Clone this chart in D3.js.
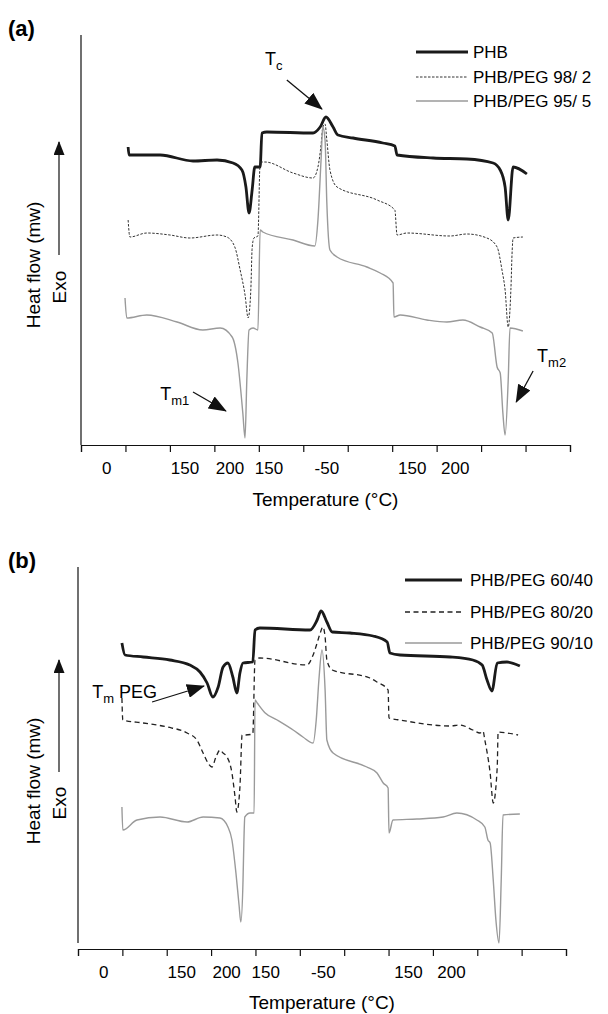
<!DOCTYPE html>
<html>
<head>
<meta charset="utf-8">
<script src="https://cdn.jsdelivr.net/npm/d3@7/dist/d3.min.js"></script>
<style>
body { margin: 0; background: #fff; }
svg { display: block; font-family: "Liberation Sans", Arial, sans-serif; }
</style>
</head>
<body>
<svg id="chart" width="608" height="1014"></svg>
<script>
// x in axis-segment units (one unit per tick), y in arbitrary heat flow units
var tickLabels = ["0", "150", "200", "150", "-50", "150", "200"];
var tickLabelPos = [0.58, 2.34, 3.35, 4.23, 5.53, 7.45, 8.42];

var namesA = ["PHB", "PHB/PEG 98/ 2", "PHB/PEG 95/ 5"];
var namesB = ["PHB/PEG 60/40", "PHB/PEG 80/20", "PHB/PEG 90/10"];

var phbA = [[1.06,29.8],[1.08,29.0],[1.78,29.0],[2.52,28.4],[3.06,28.5],[3.42,28.2],[3.62,27.5],[3.71,25.8],[3.78,23.2],
	[3.85,25.5],[3.91,27.8],[4.03,27.8],[4.07,31.2],[4.18,31.3],[5.22,31.2],[5.38,31.8],[5.51,32.8],[5.67,31.8],[5.78,31.0],
	[6.12,30.7],[6.79,30.2],[7.06,29.9],[7.11,29.0],[7.92,28.7],[8.68,28.6],[9.27,28.2],[9.43,27.5],[9.54,25.8],[9.61,22.5],
	[9.72,27.8],[10.03,27.1]];
var peg98A = [[1.06,22.5],[1.10,20.8],[1.48,21.2],[2.00,21.0],[2.45,20.7],[3.06,21.0],[3.28,20.8],[3.46,19.8],[3.58,17.5],
	[3.69,15.0],[3.76,12.7],[3.82,15.5],[3.85,19.7],[3.89,20.7],[3.98,20.9],[4.03,28.3],[4.14,28.3],[4.77,27.2],[5.22,26.7],
	[5.33,27.8],[5.40,30.0],[5.44,31.8],[5.49,32.1],[5.53,30.5],[5.60,27.5],[5.76,25.8],[6.66,24.5],[7.06,23.5],[7.11,21.0],
	[7.33,21.2],[8.30,20.9],[8.68,21.1],[9.13,20.7],[9.36,19.8],[9.47,17.5],[9.54,15.5],[9.61,11.8],[9.67,15.5],[9.70,19.5],
	[9.72,20.7],[9.94,20.8]];
var peg95A = [[0.99,14.7],[1.03,12.7],[1.48,13.0],[2.16,12.3],[2.74,11.5],[3.13,11.7],[3.40,10.8],[3.53,8.2],[3.64,3.2],
	[3.69,0.7],[3.73,6.5],[3.78,11.5],[3.87,11.7],[3.98,11.5],[4.03,21.5],[4.09,21.3],[4.77,20.5],[5.26,19.9],[5.33,22.5],
	[5.40,28.5],[5.44,31.8],[5.49,30.5],[5.53,24.2],[5.60,19.5],[5.76,18.8],[6.43,17.8],[6.73,17.2],[7.02,16.2],[7.04,12.8],
	[7.18,13.0],[7.78,12.5],[8.23,12.3],[8.59,12.5],[8.98,11.8],[9.25,11.2],[9.36,7.8],[9.43,7.2],[9.49,3.2],[9.54,1.0],
	[9.61,6.5],[9.65,11.7],[9.94,11.4]];

var peg60B = [[0.99,30.6],[1.06,29.4],[1.47,29.2],[2.07,28.9],[2.52,28.4],[2.75,27.7],[2.91,26.6],[3.04,25.2],[3.16,26.2],
	[3.27,28.2],[3.38,28.6],[3.49,27.2],[3.58,25.6],[3.65,27.6],[3.72,28.6],[3.94,28.7],[3.99,31.9],[4.10,32.1],[5.23,31.9],
	[5.39,32.9],[5.48,33.8],[5.61,32.7],[5.73,31.7],[6.13,31.6],[6.65,31.3],[6.97,30.7],[7.03,29.6],[7.26,29.4],[8.39,29.2],
	[8.90,28.9],[9.11,28.4],[9.22,26.9],[9.33,25.8],[9.45,28.6],[9.67,28.7],[9.96,28.3]];
var peg80B = [[0.99,25.1],[1.01,22.9],[1.47,22.6],[2.01,22.2],[2.46,21.6],[2.68,20.9],[2.82,19.6],[2.93,18.6],[3.02,18.2],
	[3.11,19.2],[3.20,19.9],[3.27,19.6],[3.36,19.2],[3.47,17.6],[3.54,15.2],[3.58,13.7],[3.65,16.2],[3.70,21.4],[3.76,21.4],
	[3.94,21.5],[3.99,28.9],[4.10,29.1],[5.16,28.4],[5.30,29.4],[5.39,30.6],[5.46,31.6],[5.52,32.2],[5.57,31.2],[5.61,28.9],
	[5.73,27.9],[6.58,27.1],[6.74,26.7],[6.99,25.9],[7.01,23.1],[7.26,22.9],[8.39,22.3],[8.61,22.4],[8.90,21.9],[9.06,21.6],
	[9.13,21.8],[9.17,20.9],[9.29,17.6],[9.36,14.6],[9.45,18.2],[9.47,21.7],[9.67,21.6],[9.92,21.4]];
var peg90B = [[0.99,14.2],[1.01,11.9],[1.33,12.9],[1.85,13.2],[2.46,12.7],[2.82,13.2],[3.20,13.1],[3.38,12.2],[3.47,10.9],
	[3.56,7.6],[3.63,4.4],[3.67,2.7],[3.72,6.9],[3.74,10.9],[3.76,13.2],[3.88,13.6],[3.97,13.6],[3.99,24.9],[4.04,24.6],
	[4.22,23.6],[4.49,22.9],[4.85,21.9],[5.07,21.2],[5.30,20.6],[5.37,22.9],[5.43,26.9],[5.50,29.9],[5.57,25.9],[5.61,20.9],
	[5.75,19.6],[6.51,18.2],[6.74,17.6],[6.88,16.6],[6.99,16.1],[7.01,11.6],[7.10,12.9],[7.64,13.0],[8.23,13.2],[8.54,13.6],
	[8.99,12.9],[9.17,12.2],[9.24,10.9],[9.29,10.6],[9.36,6.9],[9.42,2.9],[9.49,0.6],[9.54,6.9],[9.58,13.4],[9.96,13.5]];

// annotations: label position, arrow start, arrow end (data units)
var annosA = [
	{main: "T", sub: "c", at: [4.14, 38.0], from: [4.63, 36.5], to: [5.42, 33.6]},
	{main: "T", sub: "m1", at: [1.78, 4.5], from: [2.52, 5.3], to: [3.26, 3.4]},
	{main: "T", sub: "m2", at: [10.26, 8.3], from: [10.17, 7.4], to: [9.79, 4.3]}
];
var annosB = [
	{main: "T", sub: "m", rest: " PEG", at: [0.32, 25.1], from: [1.67, 24.7], to: [2.84, 26.3]}
];

var svg = d3.select("#chart");
var defs = svg.append("defs");
defs.append("marker").attr("id", "head").attr("viewBox", "0 0 18 14")
	.attr("refX", 17).attr("refY", 7).attr("markerWidth", 18).attr("markerHeight", 14)
	.attr("markerUnits", "userSpaceOnUse").attr("orient", "auto")
	.append("path").attr("d", "M0,0L18,7L0,14Z").attr("fill", "#111");
defs.append("marker").attr("id", "headSmall").attr("viewBox", "0 0 14 11")
	.attr("refX", 13).attr("refY", 5.5).attr("markerWidth", 14).attr("markerHeight", 11)
	.attr("markerUnits", "userSpaceOnUse").attr("orient", "auto")
	.append("path").attr("d", "M0,0L14,5.5L0,11Z").attr("fill", "#111");

var styles = {
	thick: {stroke: "#1a1a1a", width: 2.8, dash: null},
	dotted: {stroke: "#333", width: 1, dash: "2.5,1.5"},
	dashed: {stroke: "#222", width: 1.3, dash: "5,3.5"},
	gray: {stroke: "#9a9a9a", width: 1.4, dash: null}
};

drawPanel({
	tag: "(a)", tagY: 36, top: 35, axisY: 445, yAxisGap: 0, xRange: [81, 570], yMax: 41,
	series: [phbA, peg98A, peg95A], names: namesA, styles: [styles.thick, styles.dotted, styles.gray],
	legendLine: [416, 468], legendTextX: 473, legendY: [52, 77, 101],
	annos: annosA, arrowY: [255, 142], heatY: 265, exoY: 287, titleY: 506
});
drawPanel({
	tag: "(b)", tagY: 568, top: 567, axisY: 949, yAxisGap: 6, xRange: [78, 566], yMax: 38.2,
	series: [peg60B, peg80B, peg90B], names: namesB, styles: [styles.thick, styles.dashed, styles.gray],
	legendLine: [405, 462], legendTextX: 470, legendY: [580, 612, 643],
	annos: annosB, arrowY: [772, 660], heatY: 781, exoY: 803, titleY: 1009
});

function drawPanel(p) {
	var g = svg.append("g");
	var x = d3.scaleLinear().domain([0, 11]).range(p.xRange);
	var y = d3.scaleLinear().domain([0, p.yMax]).range([p.axisY, p.axisY - p.yMax * 10]);

	g.append("text").attr("x", 8).attr("y", p.tagY).attr("font-size", 22).attr("font-weight", "bold").text(p.tag);

	// axes
	g.append("line").attr("x1", x(0)).attr("x2", x(0)).attr("y1", p.top).attr("y2", p.axisY - p.yAxisGap)
		.attr("stroke", "#111").attr("stroke-width", 1.2);
	var ax = d3.axisBottom(x).tickValues(d3.range(0, 12)).tickSize(7).tickSizeOuter(7).tickFormat("");
	var axG = g.append("g").attr("transform", "translate(0," + p.axisY + ")").call(ax);
	axG.selectAll("path, line").attr("stroke", "#111").attr("stroke-width", 1.2);

	g.selectAll(".tl").data(tickLabels).enter().append("text")
		.attr("x", function(d, i) { return x(tickLabelPos[i]); })
		.attr("y", p.axisY + 29).attr("text-anchor", "middle").attr("font-size", 17).text(function(d) { return d; });
	g.append("text").attr("x", x(5.5)).attr("y", p.titleY).attr("text-anchor", "middle").attr("font-size", 19).text("Temperature (°C)");

	// y title
	g.append("text").attr("transform", "translate(33," + p.heatY + ") rotate(-90)").attr("dy", "0.35em")
		.attr("text-anchor", "middle").attr("font-size", 19).text("Heat flow (mw)");
	g.append("text").attr("transform", "translate(59," + p.exoY + ") rotate(-90)").attr("dy", "0.35em")
		.attr("text-anchor", "middle").attr("font-size", 19).text("Exo");
	g.append("line").attr("x1", 59).attr("x2", 59).attr("y1", p.arrowY[0]).attr("y2", p.arrowY[1])
		.attr("stroke", "#111").attr("stroke-width", 1.2).attr("marker-end", "url(#headSmall)");

	// curves
	var line = d3.line().curve(d3.curveMonotoneX).x(function(d) { return x(d[0]); }).y(function(d) { return y(d[1]); });
	p.series.forEach(function(s, i) {
		var st = p.styles[i];
		g.append("path").attr("d", line(s)).attr("fill", "none").attr("stroke", st.stroke)
			.attr("stroke-width", st.width).attr("stroke-dasharray", st.dash).attr("stroke-linejoin", "round");
		g.append("line").attr("x1", p.legendLine[0]).attr("x2", p.legendLine[1]).attr("y1", p.legendY[i]).attr("y2", p.legendY[i])
			.attr("stroke", st.stroke).attr("stroke-width", st.width).attr("stroke-dasharray", st.dash);
		g.append("text").attr("x", p.legendTextX).attr("y", p.legendY[i]).attr("dy", "0.35em").attr("font-size", 17).text(p.names[i]);
	});

	// annotations
	p.annos.forEach(function(a) {
		var t = g.append("text").attr("x", x(a.at[0])).attr("y", y(a.at[1])).attr("font-size", 18);
		t.append("tspan").text(a.main);
		t.append("tspan").attr("dy", 5).attr("font-size", 13).text(a.sub);
		if (a.rest) t.append("tspan").attr("dy", -5).attr("font-size", 18).text(a.rest);
		g.append("line").attr("x1", x(a.from[0])).attr("y1", y(a.from[1])).attr("x2", x(a.to[0])).attr("y2", y(a.to[1]))
			.attr("stroke", "#111").attr("stroke-width", 1.3).attr("marker-end", "url(#head)");
	});
}
</script>
</body>
</html>
